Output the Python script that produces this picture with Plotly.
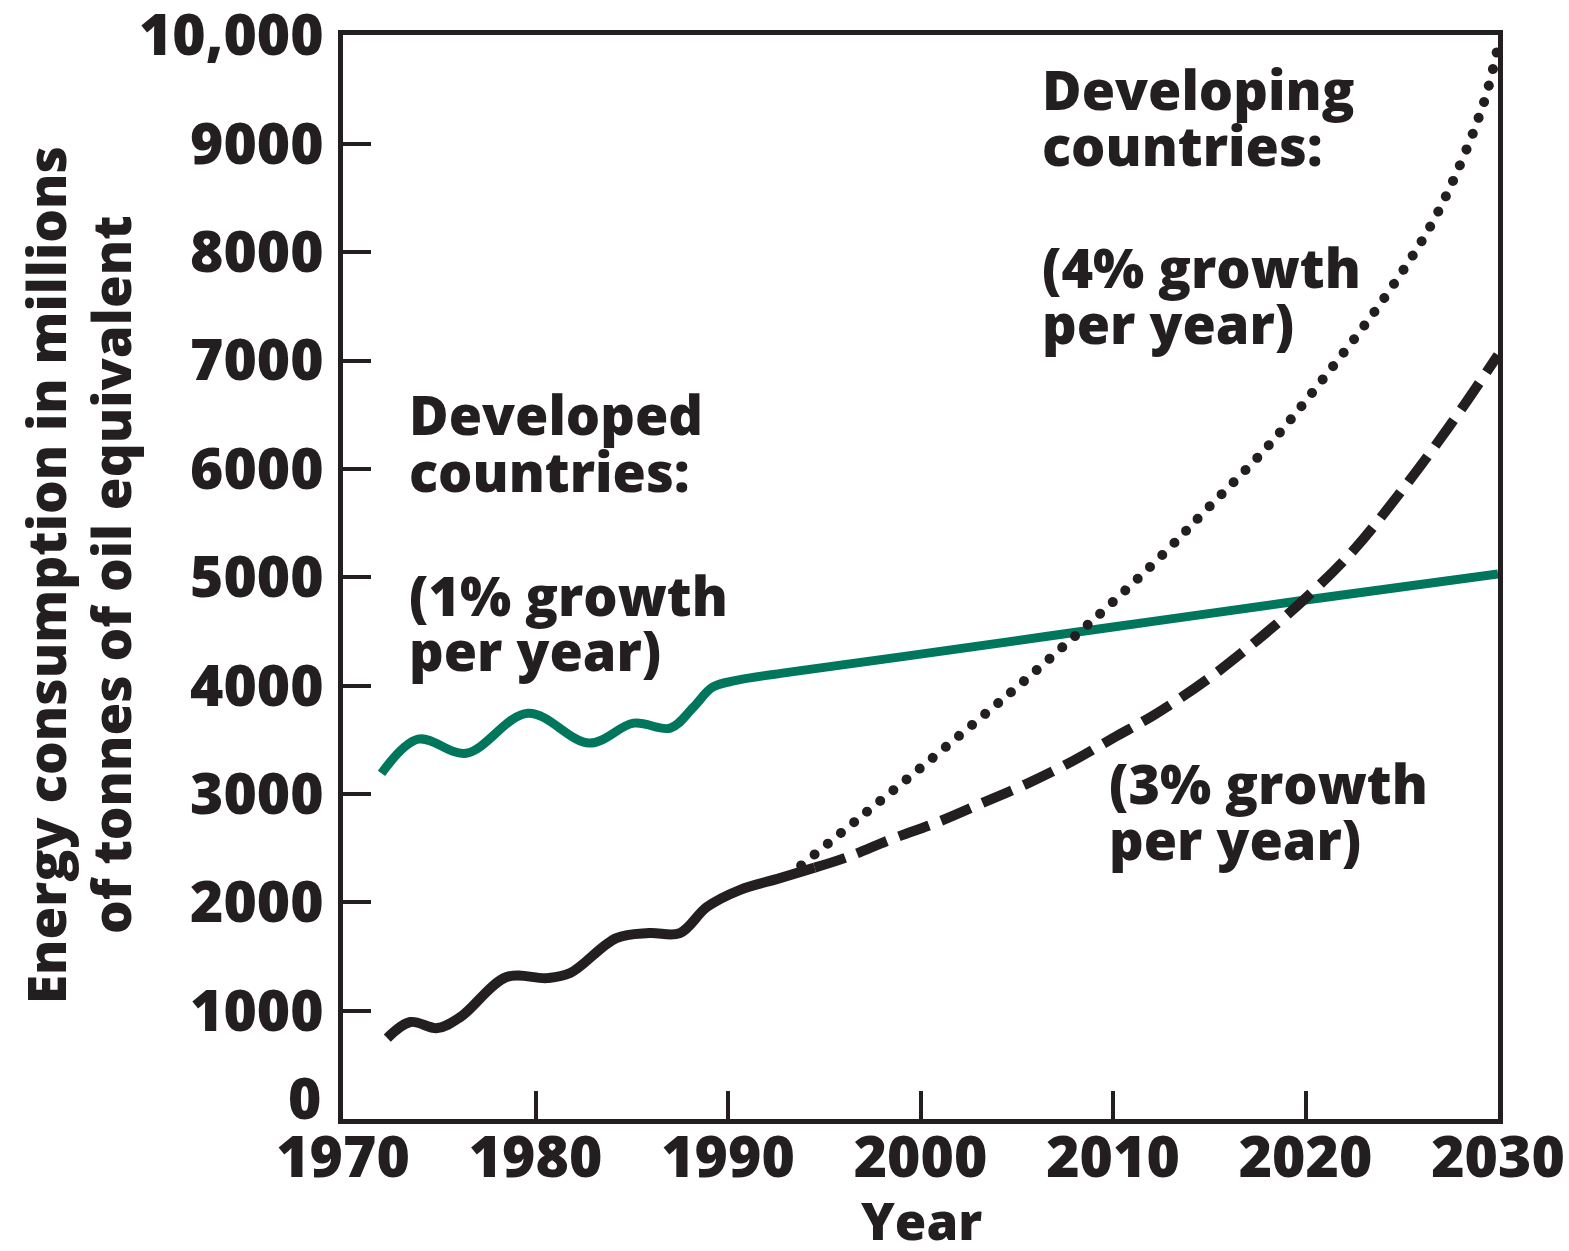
import plotly.graph_objects as go

# ---- data ----
developed_years = [1972.0, 1973.9, 1976.4, 1979.6, 1982.8, 1985.1, 1987.0, 1988.2, 1989.2, 1990.5, 1993.2, 2000, 2010, 2020, 2030]
developed_vals = [3190, 3505, 3376, 3745, 3469, 3653, 3607, 3800, 3985, 4050, 4124, 4290, 4540, 4790, 5030]

developing_hist_years = [1972.3, 1973.5, 1974.9, 1976.1, 1978.5, 1980.6, 1981.8, 1984.2, 1985.9, 1987.5, 1988.9, 1990.6, 1992.7, 1994.5]
developing_hist_vals = [747, 895, 839, 941, 1310, 1300, 1347, 1670, 1716, 1716, 1956, 2113, 2223, 2320]

proj4_years = [1993.8, 1996.9, 2000.0, 2003.1, 2005.3, 2007.6, 2009.8, 2012.7, 2015, 2018, 2021, 2024.3, 2026.9, 2029.2, 2030]
proj4_vals = [2340, 2790, 3240, 3700, 4030, 4390, 4740, 5230, 5650, 6200, 6850, 7630, 8376, 9345, 9900]

proj3_years = [1994.5, 1996.2, 1998.5, 2000.9, 2003.2, 2005.6, 2007.9, 2010.0, 2012.2, 2015, 2017.5, 2020, 2022.5, 2025, 2027.5, 2030]
proj3_vals = [2320, 2417, 2583, 2740, 2915, 3100, 3303, 3515, 3736, 4070, 4420, 4806, 5250, 5800, 6400, 7050]

x_tickvals = [1970, 1980, 1990, 2000, 2010, 2020, 2030]
x_ticktext = ["1970", "1980", "1990", "2000", "2010", "2020", "2030"]
y_tickvals = [0, 1000, 2000, 3000, 4000, 5000, 6000, 7000, 8000, 9000, 10000]
y_ticktext = ["0", "1000", "2000", "3000", "4000", "5000", "6000", "7000", "8000", "9000", "10,000"]

INK = "#231f20"
GREEN = "#00765c"
FONT = "Open Sans"
WT = 800
FS_TICK = 57
FS_TEXT = 54
FS_YTITLE = 53
FS_XTITLE = 51

fig = go.Figure()
fig.add_trace(go.Scatter(x=developed_years, y=developed_vals, mode="lines",
                         line=dict(color=GREEN, width=9, shape="spline", smoothing=1.0)))
fig.add_trace(go.Scatter(x=proj4_years, y=proj4_vals, mode="lines",
                         line=dict(color=INK, width=10, dash="8px,9px", shape="spline", smoothing=1.0)))
fig.add_trace(go.Scatter(x=proj3_years, y=proj3_vals, mode="lines",
                         line=dict(color=INK, width=10, dash="32px,13px", shape="spline", smoothing=1.0)))
fig.add_trace(go.Scatter(x=developing_hist_years, y=developing_hist_vals, mode="lines",
                         line=dict(color=INK, width=10, shape="spline", smoothing=1.0)))

axis_common = dict(showgrid=False, zeroline=False, showline=True, linecolor=INK, linewidth=5,
                   mirror=True, ticks="inside", ticklen=28, tickwidth=4, tickcolor=INK,
                   ticklabeloverflow="allow", automargin=False,
                   tickfont=dict(family=FONT, size=FS_TICK, color=INK, weight=WT))

# the "0" label sits a little higher than its tick in the reference: drawn as an annotation
y_axis_text = [""] + y_ticktext[1:]

fig.update_xaxes(range=[1970, 2030], tickvals=x_tickvals, ticktext=x_ticktext,
                 ticklabelstandoff=-15, **axis_common)
fig.update_yaxes(range=[0, 10004], tickvals=y_tickvals, ticktext=y_axis_text,
                 ticklabelstandoff=3, **axis_common)

# plot area in page pixels: x 343..1498, y 35..1119
def px2paper(xpx, ypx):
    return (xpx - 343) / 1155, (1119 - ypx) / 1084

def label(text, xpx, ybase):
    x, y = px2paper(xpx, ybase - 23)
    fig.add_annotation(text=text, xref="paper", yref="paper", x=x, y=y,
                       xanchor="left", yanchor="middle", showarrow=False,
                       font=dict(family=FONT, size=FS_TEXT, color=INK, weight=WT))

label("Developing", 1040, 112)
label("countries:", 1040, 168)
label("(4% growth", 1040, 290)
label("per year)", 1040, 346)
label("Developed", 407, 437)
label("countries:", 407, 494)
label("(1% growth", 407, 618)
label("per year)", 407, 673)
label("(3% growth", 1107, 806)
label("per year)", 1107, 862)

x, y = px2paper(323, 1097)
fig.add_annotation(text=y_ticktext[0], xref="paper", yref="paper", x=x, y=y,
                   xanchor="right", yanchor="middle", showarrow=False,
                   font=dict(family=FONT, size=FS_TICK, color=INK, weight=WT))

# axis titles
x, y = px2paper(921, 1220)
fig.add_annotation(text="Year", xref="paper", yref="paper", x=x, y=y,
                   xanchor="center", yanchor="middle", showarrow=False,
                   font=dict(family=FONT, size=FS_XTITLE, color=INK, weight=WT))
x, y = px2paper(45, 575)
fig.add_annotation(text="Energy consumption in millions", xref="paper", yref="paper",
                   x=x, y=y, textangle=-90, xanchor="center", yanchor="middle", showarrow=False,
                   font=dict(family=FONT, size=FS_YTITLE, color=INK, weight=WT))
x, y = px2paper(110, 575)
fig.add_annotation(text="of tonnes of oil equivalent", xref="paper", yref="paper",
                   x=x, y=y, textangle=-90, xanchor="center", yanchor="middle", showarrow=False,
                   font=dict(family=FONT, size=FS_YTITLE, color=INK, weight=WT))

fig.update_layout(width=1569, height=1251, showlegend=False,
                  margin=dict(l=343, r=71, t=35, b=132, autoexpand=False),
                  paper_bgcolor="white", plot_bgcolor="white",
                  font=dict(family=FONT, color=INK))

post = """
document.body.style.margin = '0';
var gd = document.getElementById('{plot_id}');
function roundDots(){
  var t = gd.querySelectorAll('.scatterlayer .trace');
  if (t.length > 1) {
    var p = t[1].querySelector('path.js-line');
    if (p) { p.style.strokeLinecap = 'round'; p.style.strokeDasharray = '0.01px,17px'; }
  }
}
roundDots();
if (gd.on) { gd.on('plotly_afterplot', roundDots); }
"""

fig.write_html("out.html", post_script=post, config={"displayModeBar": False})
